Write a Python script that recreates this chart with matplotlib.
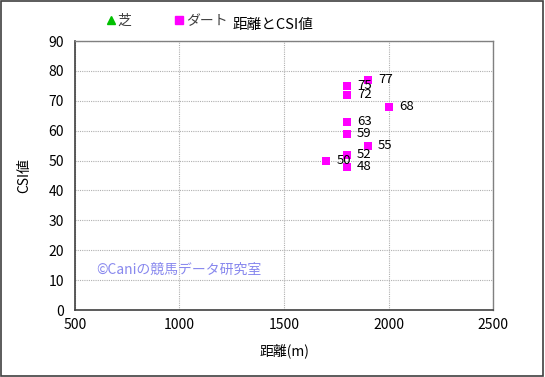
import matplotlib
matplotlib.use("Agg")
import matplotlib.pyplot as plt
from matplotlib.lines import Line2D

plt.rcParams['font.family'] = ['Noto Sans CJK JP', 'DejaVu Sans']

# Data
turf_dist = []
turf_csi = []
dirt_dist = [1900, 1800, 1800, 2000, 1800, 1800, 1900, 1800, 1700, 1800]
dirt_csi = [77, 75, 72, 68, 63, 59, 55, 52, 50, 48]
x_ticks = [500, 1000, 1500, 2000, 2500]
y_ticks = [0, 10, 20, 30, 40, 50, 60, 70, 80, 90]

fig = plt.figure(figsize=(5.45, 3.77), dpi=100)
fig.patch.set_facecolor('white')
# outer border
fig.add_artist(plt.Rectangle((0.002, 0.003), 0.995, 0.994, transform=fig.transFigure,
                             fill=False, edgecolor='#404040', linewidth=1.2))

ax = fig.add_axes([0.1376, 0.1777, 0.767, 0.7135])
ax.set_xlim(500, 2500)
ax.set_ylim(0, 90)
ax.set_xticks(x_ticks)
ax.set_yticks(y_ticks)
ax.tick_params(axis='both', labelsize=10, length=0, pad=6, colors='black')
ax.tick_params(axis='y', pad=8)
ax.grid(True, linestyle=(0, (1, 1)), color='#b0b0b0', linewidth=0.8)
ax.set_axisbelow(True)
for side in ['top', 'right']:
    ax.spines[side].set_color('#808080')
    ax.spines[side].set_linewidth(1.0)
for side in ['left', 'bottom']:
    ax.spines[side].set_color('#404040')
    ax.spines[side].set_linewidth(1.2)

ax.scatter(turf_dist, turf_csi, marker='^', color='#00c000', s=40, zorder=3)
ax.scatter(dirt_dist, dirt_csi, marker='s', color='#ff00ff', s=36, zorder=3, linewidths=0)

for d, c in zip(dirt_dist, dirt_csi):
    ax.annotate(str(c), (d, c), xytext=(7.5, 0), textcoords='offset points',
                ha='left', va='center', fontsize=9.5, color='black', zorder=4)

ax.set_xlabel('距離(m)', fontsize=10, labelpad=8)
ax.set_ylabel('CSI値', fontsize=10, labelpad=12)

ax.text(600, 13.5, '©Caniの競馬データ研究室', fontsize=10, color='#8888ee',
        ha='left', va='center', zorder=2)

fig.text(0.5, 0.935, '距離とCSI値', ha='center', va='center', fontsize=10.5)

# legend
leg_handles = [Line2D([], [], marker='^', color='#00c000', linestyle='none', markersize=6),
               Line2D([], [], marker='s', color='#ff00ff', linestyle='none', markersize=6)]
fig.legend(leg_handles, ['芝', 'ダート'], loc='center left', bbox_to_anchor=(0.17, 0.945),
           ncol=2, frameon=False, fontsize=10, handlelength=0.8, handletextpad=0.1,
           columnspacing=3.0, labelcolor='#404040')

fig.savefig('out.png', dpi=100)
